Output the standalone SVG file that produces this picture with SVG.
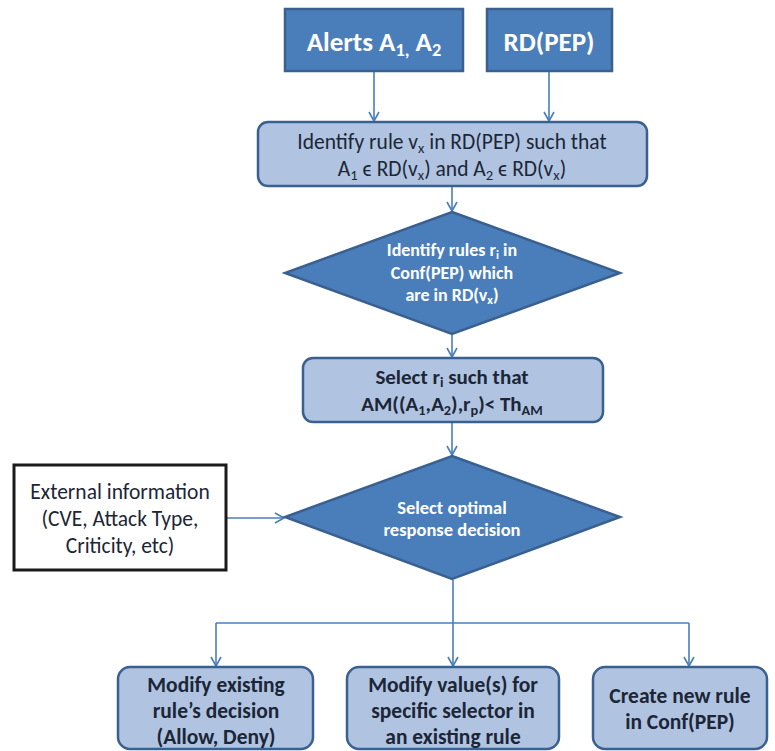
<svg xmlns="http://www.w3.org/2000/svg" width="775" height="751" viewBox="0 0 775 751">
<style>
text{font-family:Carlito,Lato,"Liberation Sans",sans-serif;text-anchor:middle}
.dark{fill:#4A7EBB;stroke:#3A6090;stroke-width:2.5}
.light{fill:#B0C4E2;stroke:#3A6090;stroke-width:2.5}
.ext{fill:#ffffff;stroke:#1a1a1a;stroke-width:3}
.wt{fill:#ffffff;font-weight:bold}
.dt{fill:#1c2636;font-weight:bold}
.rt{fill:#1c2636}
.c{fill:none;stroke:#4A7EBB;stroke-width:1.6}
.s{font-size:0.68em}
</style>
<defs>
<marker id="ah" markerWidth="12" markerHeight="12" refX="10" refY="6" orient="auto" markerUnits="userSpaceOnUse">
<path d="M1,1 L10,6 L1,11" fill="none" stroke="#4A7EBB" stroke-width="1.6"/>
</marker>
</defs>
<g id="connectors">
<path class="c" d="M374,72 V121" marker-end="url(#ah)"/>
<path class="c" d="M549,72 V121" marker-end="url(#ah)"/>
<path class="c" d="M452,187 V211" marker-end="url(#ah)"/>
<path class="c" d="M452,335 V357" marker-end="url(#ah)"/>
<path class="c" d="M452,423 V455" marker-end="url(#ah)"/>
<path class="c" d="M227,518 H284" marker-end="url(#ah)"/>
<path class="c" d="M453,580 V623"/>
<path class="c" d="M216,623 H689"/>
<path class="c" d="M216,623 V666" marker-end="url(#ah)"/>
<path class="c" d="M453,623 V666" marker-end="url(#ah)"/>
<path class="c" d="M689,623 V666" marker-end="url(#ah)"/>
</g>
<g id="alerts">
<rect class="dark" x="285" y="9" width="178" height="62"/>
<text class="wt" x="374" y="51" font-size="27">Alerts A<tspan class="s" dy="5">1,</tspan><tspan dy="-5"> A</tspan><tspan class="s" dy="5">2</tspan></text>
</g>
<g id="rdpep">
<rect class="dark" x="487" y="9" width="125" height="62"/>
<text class="wt" x="549" y="51" font-size="27">RD(PEP)</text>
</g>
<g id="identify-rule">
<rect class="light" x="258" y="122" width="389" height="64" rx="10"/>
<text class="rt" x="452" y="149" font-size="21.5">Identify rule v<tspan class="s" dy="4">x</tspan><tspan dy="-4"> in RD(PEP) such that</tspan></text>
<text class="rt" x="452" y="176" font-size="21.5">A<tspan class="s" dy="4">1</tspan><tspan dy="-4"> ϵ RD(v</tspan><tspan class="s" dy="4">x</tspan><tspan dy="-4">) and A</tspan><tspan class="s" dy="4">2</tspan><tspan dy="-4"> ϵ RD(v</tspan><tspan class="s" dy="4">x</tspan><tspan dy="-4">)</tspan></text>
</g>
<g id="identify-rules-diamond">
<polygon class="dark" points="452,212 620,273 452,334 285,273"/>
<text class="wt" x="452" y="256" font-size="18">Identify rules r<tspan class="s" dy="3">i</tspan><tspan dy="-3"> in</tspan></text>
<text class="wt" x="452" y="279" font-size="18">Conf(PEP) which</text>
<text class="wt" x="452" y="301" font-size="18">are in RD(v<tspan class="s" dy="3">x</tspan><tspan dy="-3">)</tspan></text>
</g>
<g id="select-ri">
<rect class="light" x="303" y="358" width="300" height="64" rx="10"/>
<text class="dt" x="452" y="384" font-size="21">Select r<tspan class="s" dy="3">i</tspan><tspan dy="-3"> such that</tspan></text>
<text class="dt" x="452" y="411" font-size="21">AM((A<tspan class="s" dy="4">1</tspan><tspan dy="-4">,A</tspan><tspan class="s" dy="4">2</tspan><tspan dy="-4">),r</tspan><tspan class="s" dy="4">p</tspan><tspan dy="-4">)&lt; Th</tspan><tspan class="s" dy="4">AM</tspan></text>
</g>
<g id="select-optimal">
<polygon class="dark" points="452,456 620,517 452,579 285,517"/>
<text class="wt" x="452" y="514" font-size="18.5">Select optimal</text>
<text class="wt" x="452" y="536" font-size="18.5">response decision</text>
</g>
<g id="external-info">
<rect class="ext" x="14" y="465" width="212" height="105"/>
<text class="rt" x="120" y="499" font-size="21.5">External information</text>
<text class="rt" x="120" y="526" font-size="21.5">(CVE, Attack Type,</text>
<text class="rt" x="120" y="553" font-size="21.5">Criticity, etc)</text>
</g>
<g id="modify-decision">
<rect class="light" x="118" y="667" width="195" height="82" rx="12"/>
<text class="dt" x="216" y="692" font-size="21.5">Modify existing</text>
<text class="dt" x="216" y="718" font-size="21.5">rule’s decision</text>
<text class="dt" x="216" y="744" font-size="21.5">(Allow, Deny)</text>
</g>
<g id="modify-values">
<rect class="light" x="347" y="667" width="212" height="82" rx="12"/>
<text class="dt" x="453" y="692" font-size="21.5">Modify value(s) for</text>
<text class="dt" x="453" y="718" font-size="21.5">specific selector in</text>
<text class="dt" x="453" y="744" font-size="21.5">an existing rule</text>
</g>
<g id="create-rule">
<rect class="light" x="593" y="667" width="174" height="82" rx="12"/>
<text class="dt" x="680" y="703" font-size="21.5">Create new rule</text>
<text class="dt" x="680" y="729" font-size="21.5">in Conf(PEP)</text>
</g>
</svg>
